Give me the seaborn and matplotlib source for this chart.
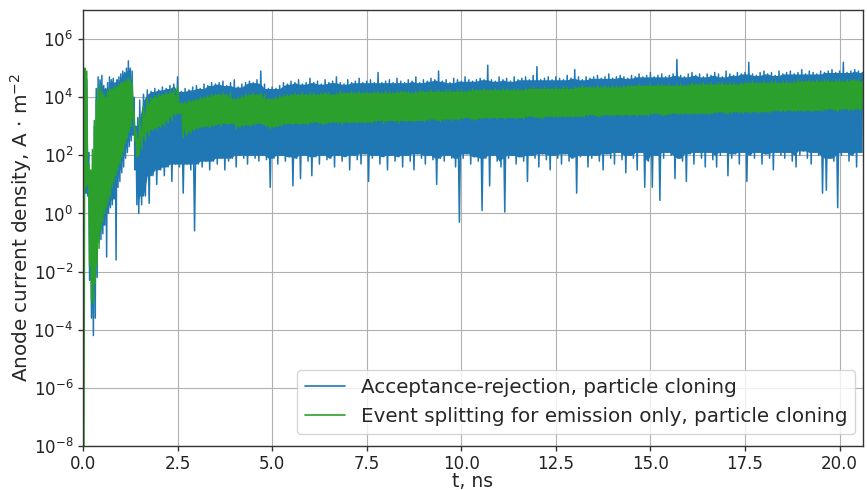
import numpy as np
import pandas as pd
import matplotlib
matplotlib.use("Agg")
import matplotlib.pyplot as plt
from matplotlib.ticker import MultipleLocator, NullLocator, FixedLocator, FormatStrFormatter
import seaborn as sns

# Sampling times (ns): fine sampling through the start-up transient, then 0.1 ns
t_ns = np.concatenate([np.arange(30) * 0.05, 1.5 + np.arange(192) * 0.1])

# log10 of the per-sample maximum / minimum current density (A/m^2)
# Acceptance-rejection, particle cloning
ar_hi = [
    4.5, 4.8, 4.6, 2.1, 1.2, 1.0, 3.0, 4.3, 4.7, 4.6, 4.75, 4.4, 4.3, 4.5, 4.7,
    4.6, 4.65, 4.5, 4.6, 4.7, 4.8, 4.9, 4.85, 5.0, 5.25, 5.0, 4.9, 4.0, 3.0, 3.3,
    3.9, 4.1, 4.25, 4.2, 4.3, 4.25, 4.35, 4.3, 4.4, 4.45,
    4.7, 4.2, 4.3, 4.25, 4.35, 4.4, 4.3, 4.45, 4.4, 4.5,
    4.45, 4.5, 4.55, 4.4, 4.5, 4.6, 4.35, 4.45, 4.5, 4.55,
    4.5, 4.6, 4.9, 4.45, 4.3, 4.35, 4.3, 4.4, 4.5, 4.45,
    4.55, 4.5, 4.6, 4.45, 4.5, 4.65, 4.5, 4.55, 4.45, 4.6,
    4.5, 4.55, 4.7, 4.5, 4.45, 4.6, 4.5, 4.55, 4.65, 4.5,
    4.55, 4.6, 4.5, 4.85, 4.5, 4.55, 4.6, 4.5, 4.65, 4.55,
    4.5, 4.6, 4.55, 4.7, 4.5, 4.6, 4.55, 4.65, 4.6, 4.9,
    4.55, 4.6, 4.5, 4.65, 4.6, 4.55, 4.7, 4.6, 4.55, 4.6,
    4.65, 4.6, 5.1, 4.6, 4.55, 4.7, 4.6, 4.65, 4.55, 4.7,
    4.6, 4.65, 4.7, 4.6, 4.75, 5.05, 4.6, 4.65, 4.7, 4.6,
    4.7, 4.65, 4.6, 4.75, 4.65, 4.95, 4.7, 4.6, 4.7, 4.65,
    4.7, 4.75, 4.65, 4.7, 4.8, 4.65, 4.7, 4.75, 4.7, 4.65,
    4.75, 4.7, 4.8, 4.7, 4.75, 4.85, 4.7, 4.75, 4.8, 4.7,
    4.75, 4.8, 5.3, 4.75, 4.7, 4.8, 4.85, 4.75, 4.8, 4.7,
    4.8, 4.75, 4.85, 4.8, 4.7, 4.9, 4.8, 4.75, 4.85, 4.8,
    4.85, 5.2, 4.8, 4.75, 4.85, 4.9, 4.8, 4.85, 4.75, 4.9,
    4.8, 4.85, 4.9, 4.8, 4.85, 4.95, 4.8, 4.9, 4.85, 4.8,
    4.9, 4.85, 4.9, 4.95, 4.85, 4.9, 5.2, 4.85, 4.9, 4.95,
    4.9, 4.85,
]
ar_lo = [
    0.5, 0.7, 0.6, -2.3, -3.6, -4.2, -3.6, -2.2, -1.0, -0.9, -0.7, -0.4, -1.5, 0.0, 0.2,
    0.3, 0.5, -1.6, 0.9, 1.1, 1.4, 1.6, 1.9, 2.1, 2.3, 2.5, 2.7, 1.5, 0.3, 0.0,
    0.3, 0.6, 0.35, 1.3, 1.0, 1.5, 1.3, 1.6, 1.1, 1.7,
    1.6, 0.7, 1.7, 1.5, -0.6, 1.7, 1.6, 1.8, 1.5, 1.8,
    1.7, 1.9, 1.5, 1.8, 1.9, 1.6, 2.0, 1.9, 1.7, 2.0,
    1.9, 1.8, 2.0, 1.85, 0.9, 1.9, 1.7, 2.0, 1.8, 1.95,
    0.95, 1.9, 1.2, 2.0, 1.8, 1.3, 1.95, 1.7, 2.0, 1.85,
    1.9, 1.6, 2.0, 1.8, 1.95, 1.5, 2.0, 1.85, 1.7, 2.05,
    1.1, 1.9, 2.0, 1.7, 1.95, 1.5, 2.0, 1.8, 1.95, 1.6,
    2.0, 1.8, 1.5, 2.05, 1.9, 1.7, 2.0, 1.85, 1.0, 1.9,
    1.8, 2.0, 1.9, 1.6, -0.3, 1.9, 2.05, 1.7, 1.95, 1.8,
    0.1, 1.9, 0.95, 2.0, 1.8, 1.6, 0.05, 1.9, 2.0, 1.7,
    1.95, 1.8, 1.1, 2.0, 1.9, 1.6, 2.05, 1.85, 1.5, 2.0,
    1.9, 1.7, 2.05, 1.8, 1.9, 0.7, 1.95, 2.0, 1.6, 1.9,
    2.0, 1.8, 1.5, 2.05, 1.9, 1.7, 2.1, 1.85, 1.4, 2.0,
    1.9, 1.5, 2.1, 0.9, 1.8, 0.9, 2.0, 0.45, 1.9, 2.1,
    2.0, 1.2, 1.9, 1.8, 1.1, 2.05, 1.7, 2.1, 1.9, 1.6,
    2.1, 1.85, 1.6, 2.0, 2.1, 1.3, 1.9, 2.05, 1.7, 2.1,
    1.1, 2.0, 1.9, 2.1, 1.7, 2.05, 1.9, 1.5, 2.1, 2.0,
    1.9, 2.1, 1.8, 1.6, 2.0, 2.15, 1.9, 1.7, 2.1, 2.0,
    0.7, 0.8, 1.9, 1.8, 0.2, 2.0, 2.1, 1.8, 2.0, 1.6,
    2.1, 2.0,
]

# Event splitting for emission only, particle cloning
es_hi = [
    6.05, 5.0, 4.9, 1.7, 1.5, 2.2, 3.2, 3.9, 4.3, 4.4, 4.2, 4.1, 4.0, 4.2, 4.3,
    4.25, 4.3, 4.4, 4.35, 4.45, 4.5, 4.5, 4.6, 4.55, 4.65, 4.6, 4.5, 3.5, 2.8, 2.6,
    3.3, 3.7, 3.95, 4.0, 4.05, 4.1, 4.1, 4.15, 4.2, 4.3,
    4.35, 3.8, 3.85, 3.9, 3.9, 3.95, 4.0, 4.0, 4.05, 4.1,
    4.1, 4.1, 4.15, 4.1, 4.15, 3.95, 4.0, 4.05, 4.1, 4.1,
    4.15, 4.1, 4.15, 4.1, 3.95, 3.95, 4.0, 4.05, 4.05, 4.1,
    4.1, 4.15, 4.1, 4.15, 4.1, 4.15, 4.15, 4.1, 4.15, 4.15,
    4.15, 4.1, 4.15, 4.2, 4.15, 4.15, 4.2, 4.15, 4.2, 4.15,
    4.2, 4.15, 4.2, 4.2, 4.15, 4.2, 4.2, 4.15, 4.2, 4.2,
    4.2, 4.2, 4.15, 4.2, 4.25, 4.2, 4.2, 4.25, 4.2, 4.25,
    4.2, 4.25, 4.25, 4.2, 4.25, 4.25, 4.2, 4.25, 4.3, 4.25,
    4.25, 4.3, 4.25, 4.25, 4.3, 4.25, 4.3, 4.3, 4.25, 4.3,
    4.3, 4.25, 4.3, 4.3, 4.35, 4.3, 4.3, 4.35, 4.3, 4.3,
    4.35, 4.3, 4.35, 4.35, 4.3, 4.35, 4.35, 4.4, 4.35, 4.35,
    4.35, 4.4, 4.35, 4.4, 4.35, 4.4, 4.4, 4.35, 4.4, 4.4,
    4.4, 4.4, 4.45, 4.4, 4.4, 4.45, 4.4, 4.45, 4.45, 4.4,
    4.45, 4.4, 4.45, 4.45, 4.4, 4.45, 4.5, 4.45, 4.45, 4.5,
    4.45, 4.5, 4.45, 4.5, 4.5, 4.45, 4.5, 4.5, 4.45, 4.5,
    4.5, 4.5, 4.55, 4.5, 4.5, 4.55, 4.5, 4.55, 4.55, 4.5,
    4.55, 4.55, 4.5, 4.55, 4.6, 4.55, 4.55, 4.6, 4.55, 4.6,
    4.55, 4.6, 4.6, 4.55, 4.6, 4.6, 4.55, 4.6, 4.6, 4.6,
    4.6, 4.55,
]
es_lo = [
    -8.2, 0.9, 1.0, -1.8, -3.0, -3.1, -2.4, -1.8, -1.2, -0.6, -0.3, 0.0, 0.2, 0.4, 0.6,
    0.9, 1.1, 1.3, 1.5, 1.7, 1.9, 2.1, 2.4, 2.6, 2.8, 3.0, 3.3, 2.5, 1.95, 2.0,
    2.2, 2.5, 2.7, 2.85, 2.9, 2.95, 3.0, 3.1, 3.2, 3.35,
    3.45, 2.6, 2.7, 2.75, 2.85, 2.9, 2.95, 3.0, 2.95, 3.0,
    3.05, 3.0, 3.1, 3.05, 3.1, 2.9, 2.95, 3.0, 3.05, 3.0,
    3.05, 3.1, 3.05, 3.0, 2.9, 2.95, 3.0, 3.0, 3.05, 3.1,
    3.05, 3.1, 3.05, 3.1, 3.05, 3.1, 3.15, 3.1, 3.05, 3.1,
    3.1, 3.15, 3.1, 3.05, 3.15, 3.1, 3.15, 3.1, 3.15, 3.1,
    3.15, 3.1, 3.15, 3.2, 3.1, 3.15, 3.2, 3.15, 3.1, 3.2,
    3.15, 3.2, 3.15, 3.2, 3.2, 3.15, 3.2, 3.25, 3.2, 3.15,
    3.2, 3.25, 3.2, 3.25, 3.2, 3.25, 3.3, 3.25, 3.2, 3.25,
    3.25, 3.3, 3.25, 3.3, 3.25, 3.3, 3.25, 3.3, 3.3, 3.25,
    3.3, 3.25, 3.3, 3.35, 3.3, 3.3, 3.25, 3.3, 3.35, 3.3,
    3.3, 3.35, 3.3, 3.35, 3.3, 3.35, 3.35, 3.3, 3.35, 3.4,
    3.35, 3.3, 3.35, 3.4, 3.35, 3.35, 3.4, 3.35, 3.4, 3.35,
    3.4, 3.35, 3.4, 3.4, 3.35, 3.4, 3.45, 3.4, 3.35, 3.4,
    3.4, 3.45, 3.4, 3.4, 3.45, 3.4, 3.45, 3.4, 3.45, 3.45,
    3.4, 3.45, 3.45, 3.5, 3.45, 3.4, 3.45, 3.5, 3.45, 3.45,
    3.5, 3.45, 3.5, 3.45, 3.5, 3.5, 3.45, 3.5, 3.55, 3.5,
    3.5, 3.55, 3.5, 3.5, 3.55, 3.5, 3.55, 3.5, 3.55, 3.55,
    3.5, 3.55, 3.6, 3.55, 3.5, 3.55, 3.6, 3.55, 3.55, 3.6,
    3.55, 3.6,
]

labels = [
    "Acceptance-rejection, particle cloning",
    "Event splitting for emission only, particle cloning",
]
colors = ["#1f77b4", "#2ca02c"]


def trace(hi, lo):
    """Interleave per-sample maxima and minima into one time trace."""
    step = np.diff(np.r_[t_ns, t_ns[-1] + 0.1])
    t_lo = t_ns + step / 2
    x = np.column_stack([t_ns, t_lo]).ravel()
    y = 10.0 ** np.column_stack([hi, lo]).ravel()
    return pd.DataFrame({"t": x, "j": y})


def core(hi, lo):
    """Dense core of the trace: envelope without isolated excursions."""
    top = pd.Series(hi).rolling(3, center=True, min_periods=1).min().to_numpy()
    bot = pd.Series(lo).rolling(3, center=True, min_periods=1).max().to_numpy()
    return 10.0 ** bot, 10.0 ** top


sns.set_theme(style="ticks")
plt.rcParams["font.family"] = ["DejaVu Sans"]
plt.rcParams["mathtext.fontset"] = "dejavusans"

fig = plt.figure(figsize=(8.67, 4.9), dpi=100)
ax = fig.add_axes([0.0957, 0.0898, 0.8997, 0.8898])

series = [(ar_hi, ar_lo), (es_hi, es_lo)]
for k, ((hi, lo), lab, col) in enumerate(zip(series, labels, colors)):
    bot, top = core(hi, lo)
    ax.fill_between(t_ns, bot, top, color=col, linewidth=0, zorder=2 + 2 * k)
    sns.lineplot(data=trace(hi, lo), x="t", y="j", sort=False, estimator=None,
                 color=col, linewidth=1.1, label=lab, ax=ax, zorder=3 + 2 * k)

ax.set_yscale("log")
ax.set_ylim(1e-8, 1e7)
ax.set_xlim(0, 20.62)
ax.yaxis.set_major_locator(FixedLocator([1e-8, 1e-6, 1e-4, 1e-2, 1e0, 1e2, 1e4, 1e6]))
ax.yaxis.set_minor_locator(NullLocator())
ax.xaxis.set_major_locator(MultipleLocator(2.5))
ax.xaxis.set_major_formatter(FormatStrFormatter("%.1f"))

ax.grid(True, color="#b0b0b0", linewidth=0.8)
ax.set_axisbelow(True)
for s in ax.spines.values():
    s.set_color("#333333")
    s.set_linewidth(1.0)
    s.set_zorder(10)
ax.tick_params(axis="both", labelsize=12, length=3.5, width=1, color="#333333",
               labelcolor="#222222")
ax.tick_params(axis="x", pad=3)

ax.set_xlabel("t, ns", fontsize=13.5, labelpad=-1)
ax.set_ylabel(r"Anode current density, A $\cdot$ m$^{-2}$", fontsize=14.4)
ax.yaxis.set_label_coords(-0.063, 0.5)

leg = ax.legend(loc="lower right", bbox_to_anchor=(0.9897, 0.0275), borderaxespad=0,
                fontsize=14.35, frameon=True, framealpha=0.8,
                edgecolor="#cccccc", handlelength=2.0)
leg.set_zorder(20)
for line in leg.get_lines():
    line.set_linewidth(1.2)

fig.savefig("out.png", dpi=100)
